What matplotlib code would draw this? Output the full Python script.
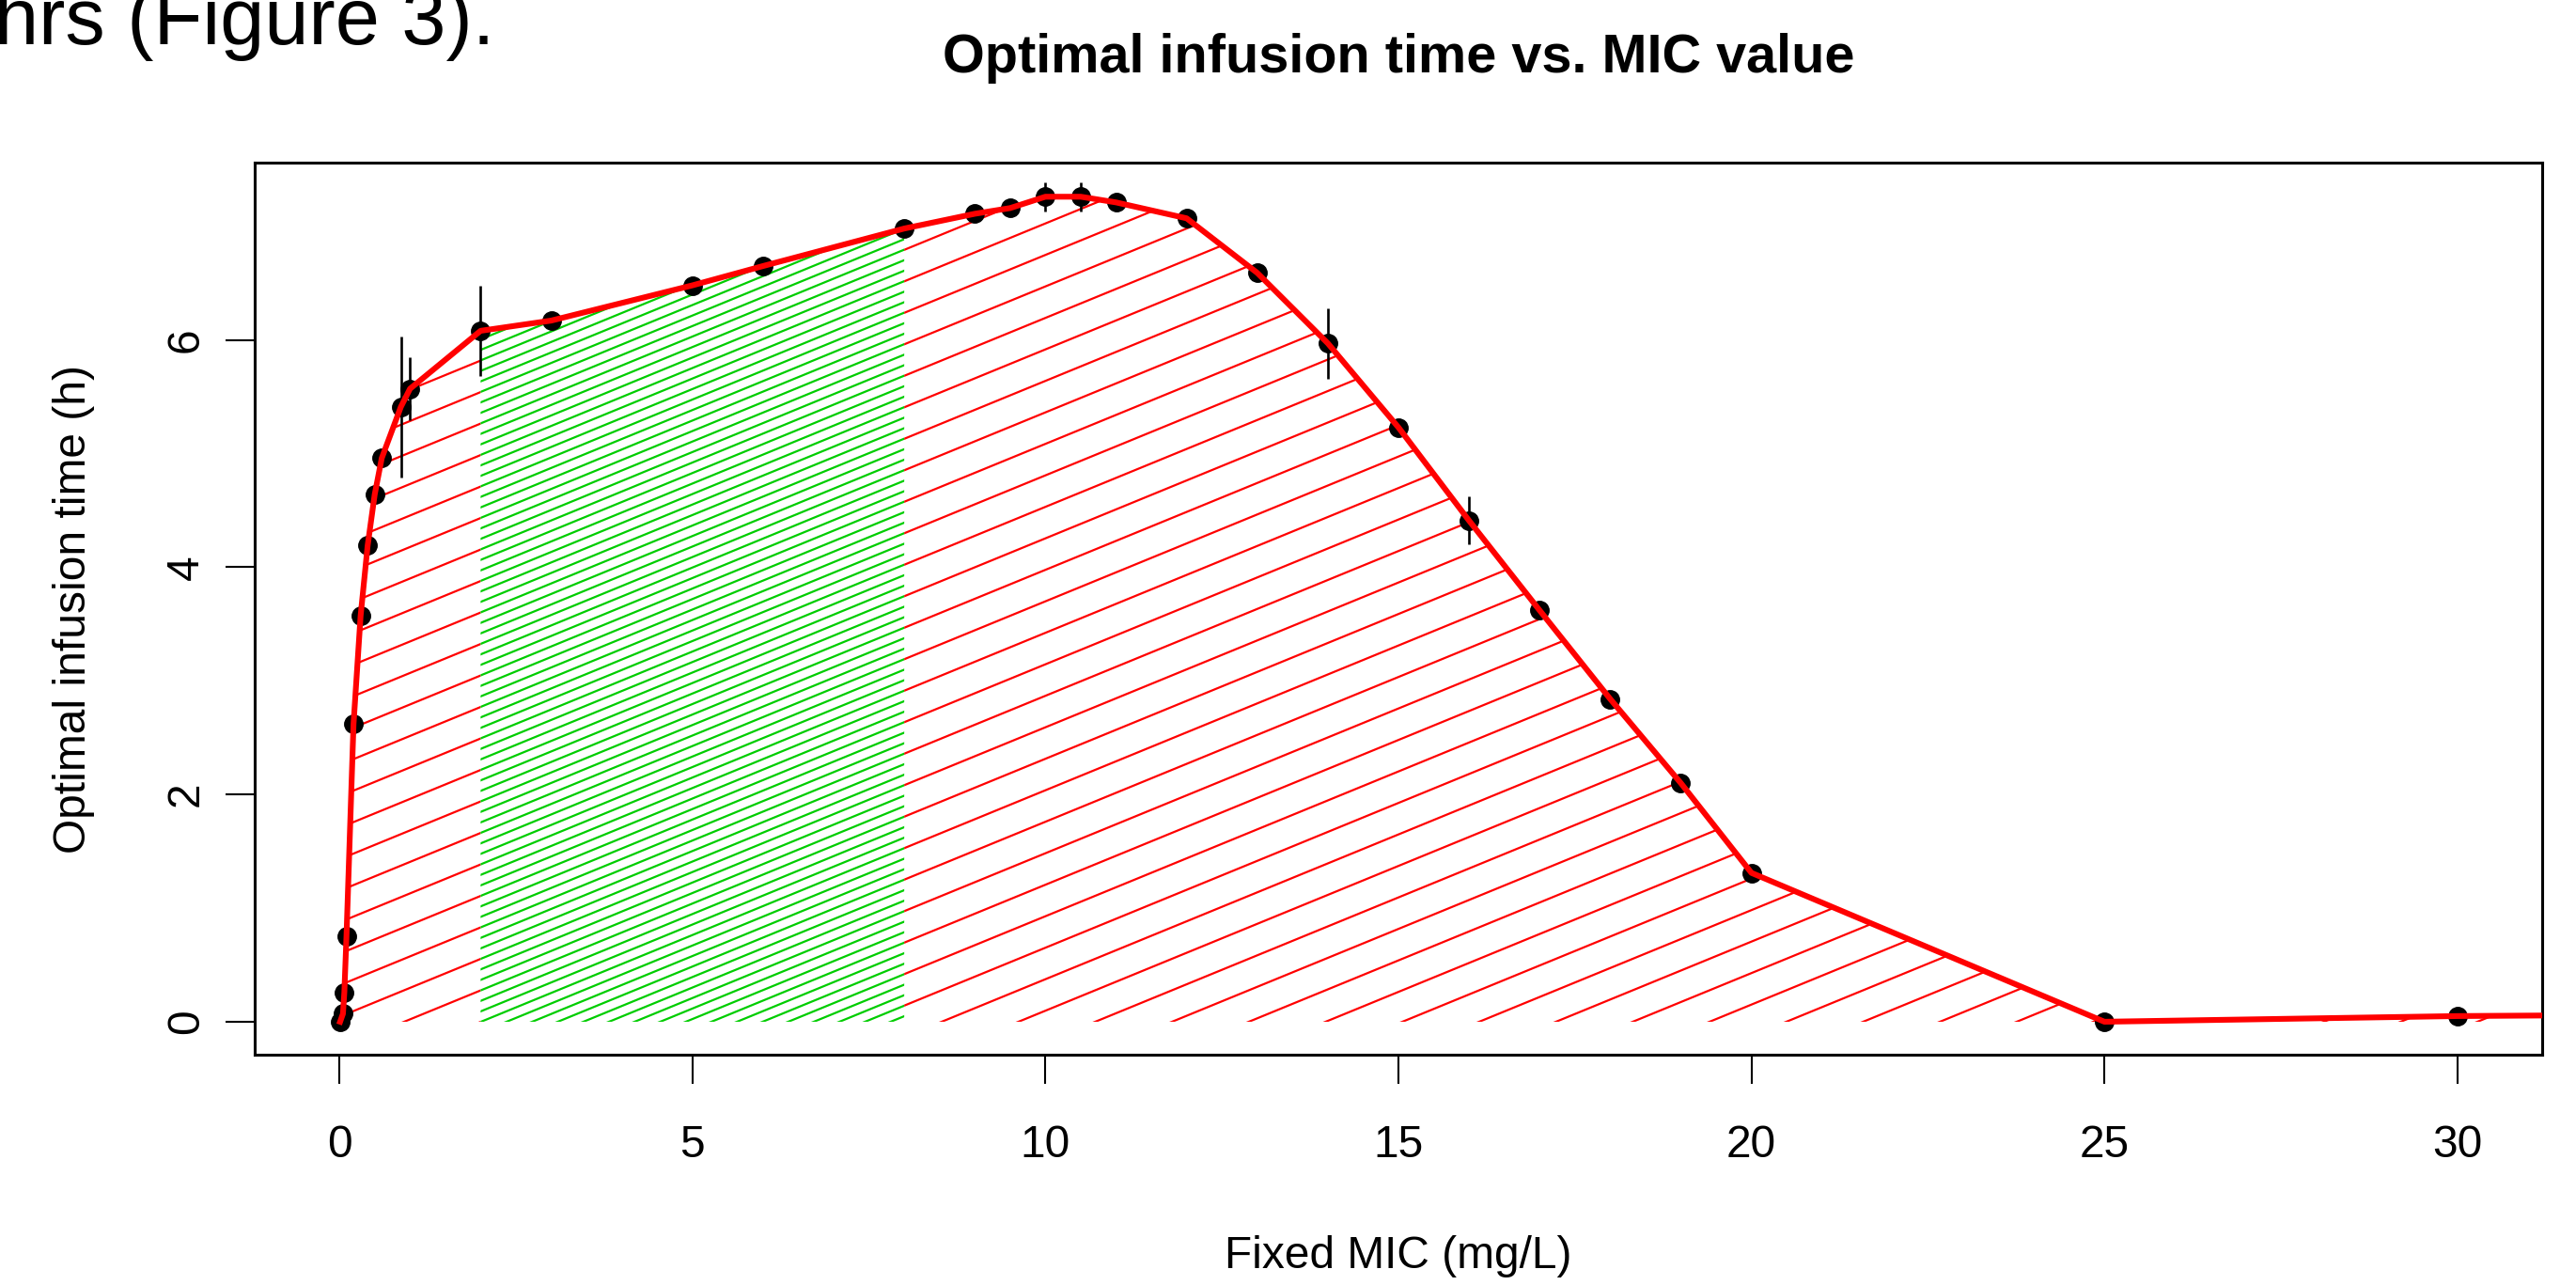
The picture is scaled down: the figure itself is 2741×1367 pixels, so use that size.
import numpy as np
import matplotlib
matplotlib.use("Agg")
import matplotlib.pyplot as plt
from matplotlib.patches import Polygon
from matplotlib.collections import LineCollection
from matplotlib.transforms import IdentityTransform

# ---------------- data ----------------
mic = [0.01, 0.05, 0.07, 0.1, 0.2, 0.3, 0.4, 0.5, 0.6, 0.87, 1.0, 2, 3, 5, 6,
       8, 9, 9.5, 10, 10.5, 11, 12, 13, 14, 15, 16, 17, 18, 19, 20, 25, 30]
opt_time = [0.0, 0.07, 0.26, 0.75, 2.62, 3.57, 4.19, 4.64, 4.96, 5.41, 5.57,
            6.08, 6.17, 6.48, 6.65, 6.98, 7.11, 7.16, 7.26, 7.26, 7.21, 7.07,
            6.59, 5.97, 5.23, 4.41, 3.62, 2.84, 2.10, 1.31, 0.0, 0.05]
err = [0.03, 0.03, 0.03, 0.03, 0.03, 0.03, 0.03, 0.03, 0.03, 0.62, 0.28,
       0.40, 0.03, 0.03, 0.03, 0.03, 0.03, 0.03, 0.13, 0.13, 0.03, 0.03,
       0.03, 0.31, 0.03, 0.21, 0.03, 0.03, 0.03, 0.03, 0.03, 0.03]
# curve continues past the right edge of the plot
mic_tail = [35]
time_tail = [0.07]
green_range = [2, 8]

xticks = [0, 5, 10, 15, 20, 25, 30]
yticks = [0, 2, 4, 6]
title = "Optimal infusion time vs. MIC value"
xlabel = "Fixed MIC (mg/L)"
ylabel = "Optimal infusion time (h)"
top_text = "hrs (Figure 3)."

# ---------------- figure ----------------
plt.rcParams['font.family'] = ['Liberation Sans', 'DejaVu Sans']
W, H = 2741, 1367
DPI = 100
fig = plt.figure(figsize=(W / DPI, H / DPI), dpi=DPI)
L, R, B, T = 271, 2705, H - 1122, H - 173
ax = fig.add_axes([L / W, B / H, (R - L) / W, (T - B) / H])
ax.set_xlim(-1.2, 31.2)
ax.set_ylim(-0.29, 7.56)
ax.set_autoscale_on(False)

x_all = np.array(mic + mic_tail, dtype=float)
y_all = np.array(opt_time + time_tail, dtype=float)


def region_patch(lo, hi):
    m = (x_all >= lo) & (x_all <= hi)
    xs = x_all[m]
    ys = y_all[m]
    verts = np.column_stack([np.r_[xs, xs[-1], xs[0]], np.r_[ys, 0, 0]])
    p = Polygon(verts, closed=True, facecolor='none', edgecolor='none',
                transform=ax.transData)
    ax.add_patch(p)
    return p


def hatch(patch, spacing, slope, x_ref, y_ref, color, lw):
    x0, y0, x1, y1 = ax.bbox.extents
    base0 = y_ref + slope * (x0 - x_ref)
    base1 = y_ref + slope * (x1 - x_ref)
    kmin = int(np.floor((y0 - max(base0, base1)) / spacing)) - 1
    kmax = int(np.ceil((y1 - min(base0, base1)) / spacing)) + 1
    segs = [[(x0, base0 + k * spacing), (x1, base1 + k * spacing)]
            for k in range(kmin, kmax + 1)]
    lc = LineCollection(segs, colors=color, linewidths=lw,
                        transform=IdentityTransform(), zorder=2)
    ax.add_collection(lc, autolim=False)
    lc.set_clip_path(patch)


slope = 0.41
p_left = region_patch(x_all.min(), green_range[0])
p_right = region_patch(green_range[1], x_all.max())
p_green = region_patch(green_range[0], green_range[1])
hatch(p_left, 33.5, slope, 508, 312, '#FF0000', 1.6)
hatch(p_right, 33.5, slope, 508, 312, '#FF0000', 1.6)
hatch(p_green, 11.17, slope, 508, 312, '#00CD00', 1.6)

ax.errorbar(mic, opt_time, yerr=err, fmt='none', ecolor='black',
            elinewidth=1.9, capsize=0, zorder=4)
ax.plot(mic, opt_time, 'o', color='black', ms=14, zorder=5)
ax.plot(x_all, y_all, '-', color='#FF0000', lw=4.4, zorder=6,
        solid_joinstyle='round')

ax.set_xticks(xticks)
ax.set_yticks(yticks)
ax.set_xticklabels([str(v) for v in xticks])
ax.set_yticklabels([str(v) for v in yticks])
for s in ax.spines.values():
    s.set_linewidth(2.2)
ax.tick_params(axis='both', length=22, width=1.5, labelsize=34.5,
               direction='out', colors='black')
ax.tick_params(axis='x', pad=31)
ax.tick_params(axis='y', pad=14, labelrotation=90)
for lab in ax.get_yticklabels():
    lab.set_va('center')

cx = (L + R) / 2 / W
fig.text(cx, (H - 77) / H, title, fontsize=41.5, fontweight='bold',
         ha='center', va='baseline')
fig.text(cx, (H - 1349) / H, xlabel, fontsize=34.5, ha='center',
         va='baseline')
fig.text(79 / W, (B + T) / 2 / H, ylabel, fontsize=34.5, ha='center',
         va='center', rotation=90)
fig.text(-6 / W, (H - 47) / H, top_text, fontsize=61, ha='left',
         va='baseline')

fig.savefig("out.png", dpi=DPI)
